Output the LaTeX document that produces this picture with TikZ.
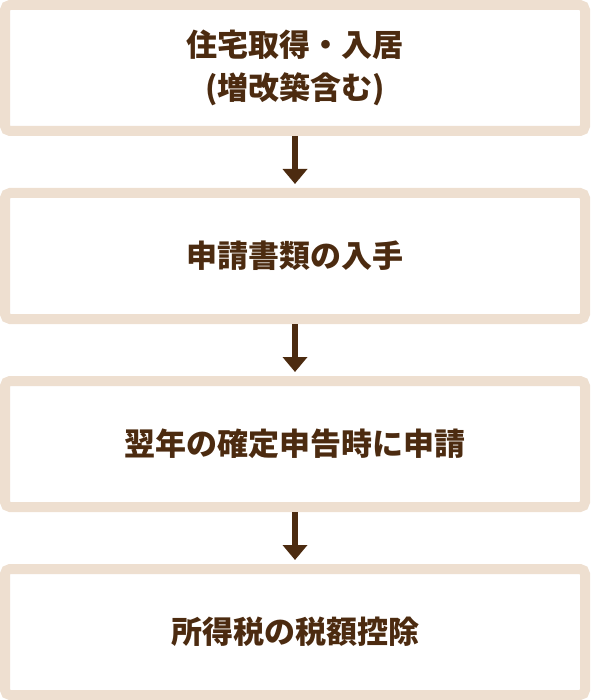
\documentclass[tikz,border=0pt]{standalone}
\usepackage{fontspec}
\newfontfamily\jp{Noto Sans CJK JP}
\usetikzlibrary{arrows.meta}
\definecolor{boxline}{RGB}{238,223,208}
\definecolor{ink}{RGB}{76,43,16}
\tikzset{
  stepbox/.style={draw=boxline, line width=10pt, rounded corners=5pt, fill=white,
    minimum width=580pt, minimum height=126pt, inner sep=0pt,
    text=ink, font=\jp\bfseries\fontsize{31}{43}\selectfont, align=center},
  flowarrow/.style={draw=ink, line width=6pt, shorten >=4pt,
    -{Triangle[width=24pt,length=15pt]}}
}
\begin{document}
\begin{tikzpicture}[x=1pt,y=-1pt]
\useasboundingbox (0,0) rectangle (590,700);
\node[stepbox] (b1) at (295,68) {住宅取得・入居\\(増改築含む)};
\node[stepbox] (b2) at (295,256) {申請書類の入手};
\node[stepbox] (b3) at (295,444) {翌年の確定申告時に申請};
\node[stepbox] (b4) at (295,632) {所得税の税額控除};
\draw[flowarrow] (b1.south) -- (b2.north);
\draw[flowarrow] (b2.south) -- (b3.north);
\draw[flowarrow] (b3.south) -- (b4.north);
\end{tikzpicture}
\end{document}
